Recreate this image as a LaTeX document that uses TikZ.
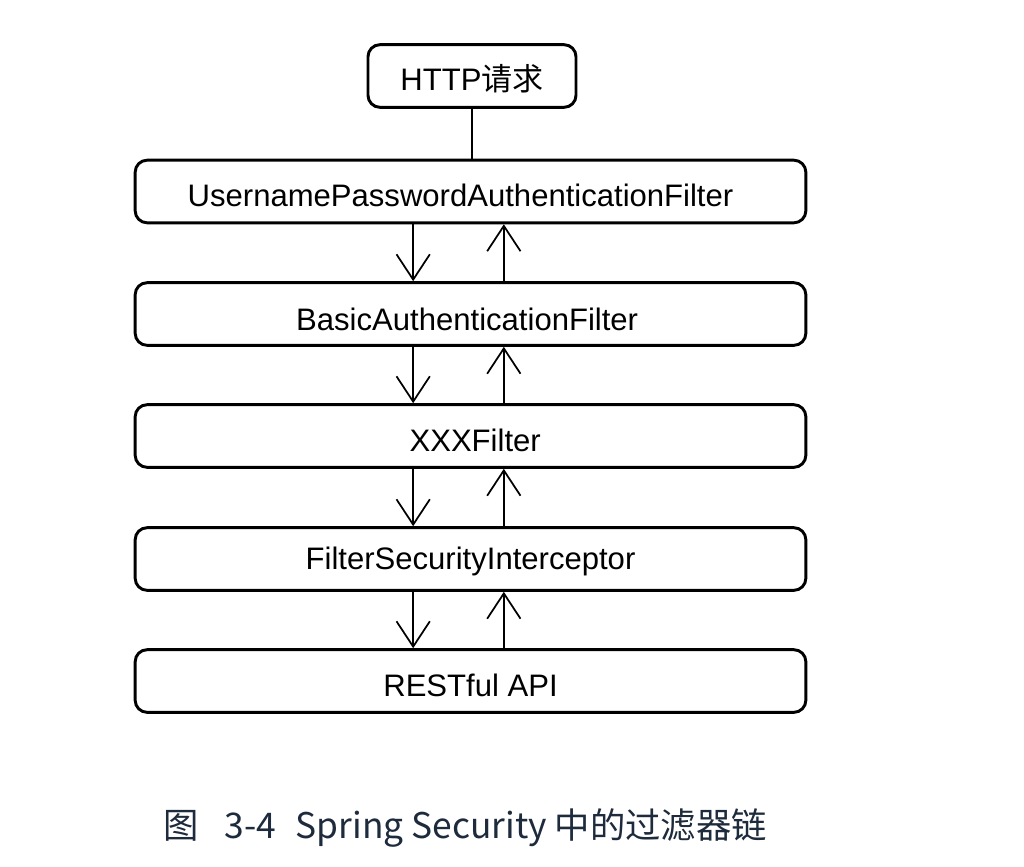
\documentclass[tikz,border=0pt]{standalone}
\usepackage{fontspec}
\setmainfont{Liberation Sans}
\newfontfamily\cjk{Noto Sans CJK SC}
\usepackage{tikz}
\usetikzlibrary{arrows.meta}
\tikzset{every picture/.style={line width=0.75pt}}
\definecolor{captionnavy}{HTML}{1E2B3C}
\tikzset{
  filterbox/.style={draw,rounded corners=9pt,line width=2.2pt,minimum width=503pt,minimum height=47pt,inner sep=0pt},
  boxtext/.style={inner sep=0pt,yshift=-3.2pt,font=\fontsize{23.3}{27}\selectfont},
  flow/.style={line width=1.2pt,-{Straight Barb[length=19pt,width=25pt,line width=1.3pt]}}
}
\begin{document}
\begin{tikzpicture}[x=0.75pt,y=0.75pt,yscale=-1,xscale=1]
\useasboundingbox (0,0) rectangle (1024,867);
\node [filterbox,minimum width=156pt,label={[boxtext,yshift=1.5pt]center:HTTP{\cjk 请求}}] (http) at (472,76) {};
\node [filterbox,label={[boxtext,xshift=-7.5pt]center:UsernamePasswordAuthenticationFilter}] (upaf) at (470.5,191.5) {};
\node [filterbox,label={[boxtext,xshift=-2.5pt,yshift=-1pt]center:BasicAuthenticationFilter}] (basic) at (470.5,314) {};
\node [filterbox,label={[boxtext,xshift=3.5pt]center:XXXFilter}] (xxx) at (470.5,436) {};
\node [filterbox,label={[boxtext,yshift=1pt]center:FilterSecurityInterceptor}] (fsi) at (470.5,559) {};
\node [filterbox,label={[boxtext]center:RESTful API}] (api) at (470.5,681) {};
\draw [line width=1.1pt] (http.south) -- (http.south |- upaf.north);
% request goes down, response comes back up
\foreach \a/\b in {upaf/basic,basic/xxx,xxx/fsi,fsi/api}{
  \draw [flow] ([xshift=-43pt]\a.south) -- ([xshift=-43pt]\b.north);
  \draw [flow] ([xshift=25pt]\b.north) -- ([xshift=25pt]\a.south);
}
\node [text=captionnavy,font=\cjk\fontsize{26.5}{30}\selectfont] (caption) at (465,828) {图\hspace{0.75em}3-4\hspace{0.55em}Spring Security 中的过滤器链};
\end{tikzpicture}
\end{document}
